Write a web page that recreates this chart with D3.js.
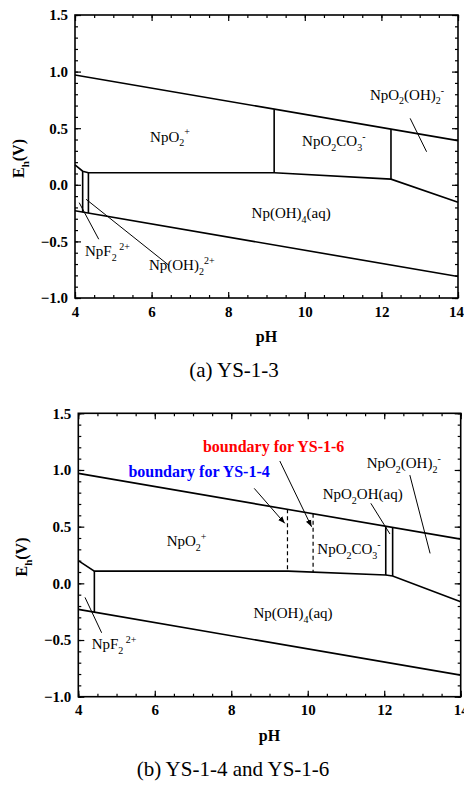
<!DOCTYPE html>
<html>
<head>
<meta charset="utf-8">
<script src="https://cdn.jsdelivr.net/npm/d3@7"></script>
<style>
  body { margin: 0; background: #fff; }
  svg { display: block; font-family: 'Liberation Serif', 'Times New Roman', serif; }
  .tick text { font-weight: bold; font-size: 15px; }
</style>
</head>
<body>
<svg width="464" height="785"></svg>
<script>
// pH / Eh ranges and tick values
const xMajor = [4, 6, 8, 10, 12, 14];
const xMinor = d3.range(4, 14.01, 0.5);
const yMajor = [-1.0, -0.5, 0.0, 0.5, 1.0, 1.5];
const yMinor = d3.range(-1.0, 1.501, 0.1);

// panel (a) YS-1-3 : boundary lines [pH, Eh]
const waterUpperA = [[4, 0.97], [14, 0.39]];
const waterLowerA = [[4, -0.23], [14, -0.81]];
const npIVTopA = [[4, 0.175], [4.2, 0.12], [4.35, 0.107], [9.2, 0.107], [12.25, 0.05], [14, -0.155]];
const verticalsA = [
  [[4.2, 0.12], [4.2, -0.242]],
  [[4.35, 0.107], [4.35, -0.25]],
  [[9.2, 0.107], [9.2, 0.666]],
  [[12.25, 0.05], [12.25, 0.49]]
];
const leadersA = [
  [[4.11, -0.158], [4.62, -0.481]],
  [[4.29, -0.128], [6.44, -0.708]],
  [[12.75, 0.587], [13.18, 0.292]]
];
const labelsA = [
  {text: 'NpO_{2}^{+}', pH: 5.96, eh: 0.38},
  {text: 'NpO_{2}CO_{3}^{-}', pH: 9.93, eh: 0.34},
  {text: 'NpO_{2}(OH)_{2}^{-}', pH: 11.7, eh: 0.75},
  {text: 'Np(OH)_{4}(aq)', pH: 8.61, eh: -0.296},
  {text: 'NpF_{2}^{ 2+}', pH: 4.26, eh: -0.629},
  {text: 'Np(OH)_{2}^{2+}', pH: 5.93, eh: -0.753}
];

// panel (b) YS-1-4 and YS-1-6
const waterUpperB = [[4, 0.97], [14, 0.39]];
const waterLowerB = [[4, -0.23], [14, -0.81]];
const npIVTopB = [[4, 0.2], [4.42, 0.108], [9.49, 0.108], [12.04, 0.073], [12.22, 0.065], [14, -0.163]];
const verticalsB = [
  [[4.42, 0.108], [4.42, -0.256]],
  [[12.04, 0.073], [12.04, 0.504]],
  [[12.22, 0.065], [12.22, 0.494]]
];
const dashedB = [
  [[9.47, 0.653], [9.47, 0.108]],
  [[10.14, 0.614], [10.14, 0.1]]
];
const arrowsB = [
  [[8.6, 0.838], [9.4, 0.529]],
  [[9.27, 1.079], [10.1, 0.499]]
];
const leadersB = [
  [[11.65, 0.706], [12.15, 0.435]],
  [[12.67, 0.955], [13.2, 0.264]],
  [[4.175, -0.124], [4.61, -0.436]]
];
const labelsB = [
  {text: 'boundary for YS-1-6', pH: 7.26, eh: 1.163, color: '#ff0000', bold: true},
  {text: 'boundary for YS-1-4', pH: 5.31, eh: 0.938, color: '#0000ff', bold: true},
  {text: 'NpO_{2}(OH)_{2}^{-}', pH: 11.54, eh: 1.017},
  {text: 'NpO_{2}OH(aq)', pH: 10.39, eh: 0.744},
  {text: 'NpO_{2}CO_{3}^{-}', pH: 10.25, eh: 0.258},
  {text: 'NpO_{2}^{+}', pH: 6.31, eh: 0.329},
  {text: 'Np(OH)_{4}(aq)', pH: 8.58, eh: -0.307},
  {text: 'NpF_{2}^{ 2+}', pH: 4.35, eh: -0.58}
];

const svg = d3.select('svg');

svg.append('defs').append('marker')
  .attr('id', 'arrow')
  .attr('viewBox', '0 0 10 10')
  .attr('refX', 10).attr('refY', 5)
  .attr('markerWidth', 7).attr('markerHeight', 7)
  .attr('markerUnits', 'userSpaceOnUse')
  .attr('orient', 'auto')
  .append('path')
  .attr('d', 'M0,1 L10,5 L0,9 Z')
  .attr('fill', '#000');

// split "NpO_{2}^{+}" into plain / sub / sup parts
function parseChem(str) {
  const parts = [];
  const re = /([_^])\{([^}]*)\}|([^_^]+)/g;
  let m;
  while ((m = re.exec(str)) !== null) {
    if (m[3]) parts.push({t: m[3], k: 'n'});
    else parts.push({t: m[2], k: m[1] === '_' ? 'sub' : 'sup'});
  }
  return parts;
}

function chemText(g, str, x, y, size, opts) {
  opts = opts || {};
  const text = g.append('text')
    .attr('x', x).attr('y', y)
    .attr('font-size', size)
    .attr('fill', opts.color || '#000')
    .attr('font-weight', opts.bold ? 'bold' : 'normal')
    .attr('text-anchor', opts.anchor || 'start')
    .attr('transform', opts.transform || null);
  const small = Math.round(size * 0.66);
  let off = 0;
  for (const p of parseChem(str)) {
    const target = p.k === 'sub' ? size * 0.3 : p.k === 'sup' ? -size * 0.42 : 0;
    text.append('tspan')
      .attr('dy', target - off)
      .attr('font-size', p.k === 'n' ? size : small)
      .style('white-space', 'pre')
      .text(p.t);
    off = target;
  }
  return text;
}

function tidy(s) {
  s.attr('font-family', null).attr('font-size', null);
  s.select('.domain').remove();
  s.selectAll('line').attr('stroke-width', 1.2);
  s.selectAll('text').attr('fill', '#000');
}

function panel(cfg) {
  const x = d3.scaleLinear().domain([4, 14]).range([cfg.left, cfg.right]);
  const y = d3.scaleLinear().domain([-1, 1.5]).range([cfg.bottom, cfg.top]);
  const g = svg.append('g');
  const h = cfg.bottom - cfg.top, w = cfg.right - cfg.left;

  // minor ticks on all four sides
  const minorAxes = [
    [d3.axisBottom(x), `translate(0,${cfg.bottom})`, xMinor],
    [d3.axisTop(x), `translate(0,${cfg.top})`, xMinor],
    [d3.axisLeft(y), `translate(${cfg.left},0)`, yMinor],
    [d3.axisRight(y), `translate(${cfg.right},0)`, yMinor]
  ];
  for (const [ax, tr, vals] of minorAxes) {
    g.append('g').attr('transform', tr)
      .call(ax.tickValues(vals).tickSize(-3).tickSizeOuter(0).tickFormat(''))
      .call(tidy);
  }
  const majorAxes = [
    [d3.axisTop(x), `translate(0,${cfg.top})`, xMajor],
    [d3.axisRight(y), `translate(${cfg.right},0)`, yMajor]
  ];
  for (const [ax, tr, vals] of majorAxes) {
    g.append('g').attr('transform', tr)
      .call(ax.tickValues(vals).tickSize(-6).tickSizeOuter(0).tickFormat(''))
      .call(tidy);
  }
  const xAxis = g.append('g').attr('transform', `translate(0,${cfg.bottom})`)
    .call(d3.axisBottom(x).tickValues(xMajor).tickSize(-6).tickSizeOuter(0).tickPadding(8).tickFormat(d3.format('d')))
    .call(tidy);
  if (cfg.lastTickShift) {
    xAxis.selectAll('.tick text').filter(d => d === 14).attr('dx', cfg.lastTickShift);
  }
  g.append('g').attr('transform', `translate(${cfg.left},0)`)
    .call(d3.axisLeft(y).tickValues(yMajor).tickSize(-6).tickSizeOuter(0).tickPadding(7).tickFormat(d3.format('.1f')))
    .call(tidy);

  g.append('rect')
    .attr('x', cfg.left).attr('y', cfg.top)
    .attr('width', w).attr('height', h)
    .attr('fill', 'none').attr('stroke', '#000').attr('stroke-width', 1.6);

  const line = d3.line().x(d => x(d[0])).y(d => y(d[1]));
  const plot = g.append('g').attr('fill', 'none').attr('stroke', '#000');

  for (const pts of [cfg.upper, cfg.lower, cfg.top4].concat(cfg.verticals)) {
    plot.append('path').attr('d', line(pts)).attr('stroke-width', 1.6);
  }
  for (const pts of cfg.dashed || []) {
    plot.append('path').attr('d', line(pts)).attr('stroke-width', 1.2).attr('stroke-dasharray', '4,3');
  }
  for (const pts of cfg.leaders) {
    plot.append('path').attr('d', line(pts)).attr('stroke-width', 1);
  }
  for (const pts of cfg.arrows || []) {
    plot.append('path').attr('d', line(pts)).attr('stroke-width', 1).attr('marker-end', 'url(#arrow)');
  }

  for (const lb of cfg.labels) {
    chemText(g, lb.text, x(lb.pH), y(lb.eh), lb.bold ? 16 : 15, {color: lb.color, bold: lb.bold});
  }

  // axis titles and caption
  chemText(g, 'E_{h}(V)', 0, 0, 16, {
    bold: true, anchor: 'middle',
    transform: `translate(${cfg.left - 51},${(cfg.top + cfg.bottom) / 2 + 2}) rotate(-90)`
  });
  g.append('text')
    .attr('x', (cfg.left + cfg.right) / 2).attr('y', cfg.bottom + 44)
    .attr('text-anchor', 'middle').attr('font-weight', 'bold').attr('font-size', 16)
    .text('pH');
  g.append('text')
    .attr('x', cfg.capX).attr('y', cfg.bottom + 79)
    .attr('text-anchor', 'middle').attr('font-size', 21)
    .text(cfg.caption);
}

panel({
  left: 75, right: 458, top: 15, bottom: 298,
  upper: waterUpperA, lower: waterLowerA, top4: npIVTopA,
  verticals: verticalsA, leaders: leadersA, labels: labelsA,
  caption: '(a) YS-1-3', capX: 234, lastTickShift: -2
});

panel({
  left: 78.3, right: 460.7, top: 413.3, bottom: 696.7,
  upper: waterUpperB, lower: waterLowerB, top4: npIVTopB,
  verticals: verticalsB, dashed: dashedB, arrows: arrowsB,
  leaders: leadersB, labels: labelsB,
  caption: '(b) YS-1-4 and YS-1-6', capX: 233
});
</script>
</body>
</html>
